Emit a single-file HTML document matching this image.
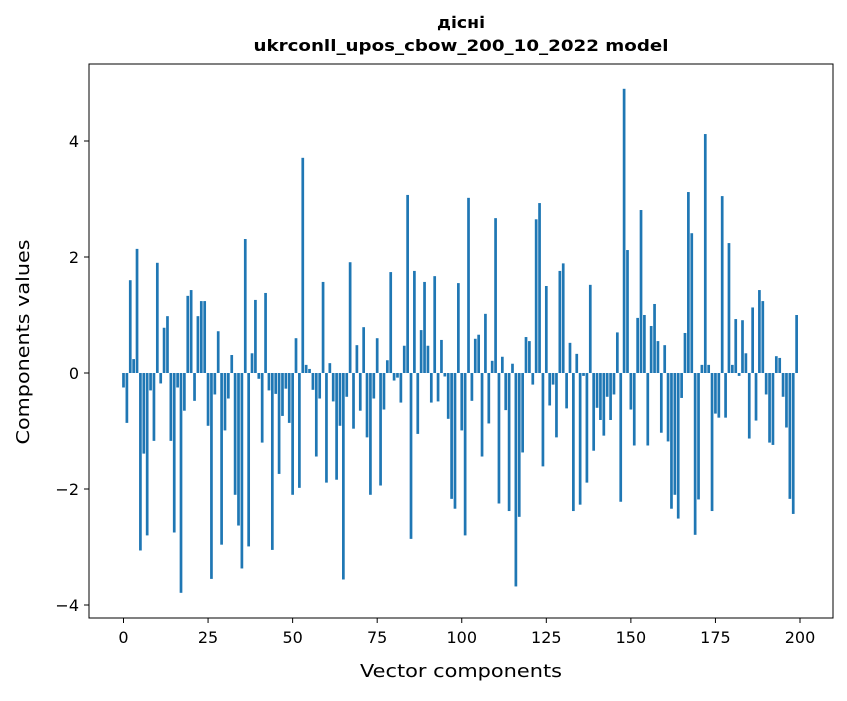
<!DOCTYPE html>
<html><head><meta charset="utf-8"><style>
body{margin:0;background:#fff;}
svg text{font-family:"DejaVu Sans","Liberation Sans",sans-serif;fill:#000;}
</style></head><body>
<svg id="chart" width="847" height="696" viewBox="0 0 847 696">
<rect x="0" y="0" width="847" height="696" fill="#fff"/>
<text x="461" y="28" text-anchor="middle" font-size="16" font-weight="bold" textLength="48" lengthAdjust="spacingAndGlyphs">дісні</text>
<text x="461" y="51" text-anchor="middle" font-size="16" font-weight="bold" textLength="415" lengthAdjust="spacingAndGlyphs">ukrconll_upos_cbow_200_10_2022 model</text>
<g id="bars"></g>
<g id="xticks"></g>
<g id="yticks"></g>
<rect x="89" y="64" width="744" height="554" fill="none" stroke="#000" stroke-width="1"/>
<text x="461" y="677" text-anchor="middle" font-size="18" textLength="202" lengthAdjust="spacingAndGlyphs">Vector components</text>
<text x="0" y="0" transform="translate(29,342) rotate(-90)" text-anchor="middle" font-size="18" textLength="205" lengthAdjust="spacingAndGlyphs">Components values</text>
</svg>
<script>
const values = [-0.25,-0.86,1.60,0.24,2.14,-3.06,-1.39,-2.80,-0.30,-1.17,1.90,-0.18,0.78,0.98,-1.17,-2.75,-0.25,-3.79,-0.65,1.33,1.43,-0.48,0.98,1.24,1.24,
-0.91,-3.55,-0.37,0.72,-2.96,-0.99,-0.44,0.31,-2.10,-2.63,-3.37,2.31,-2.99,0.34,1.26,-0.10,-1.20,1.38,-0.30,-3.05,-0.36,-1.74,-0.74,-0.27,-0.86,
-2.10,0.60,-1.98,3.71,0.14,0.07,-0.29,-1.44,-0.44,1.57,-1.89,0.17,-0.49,-1.84,-0.91,-3.56,-0.41,1.91,-0.96,0.48,-0.65,0.79,-1.11,-2.10,-0.44,
0.60,-1.94,-0.63,0.22,1.74,-0.13,-0.08,-0.51,0.47,3.07,-2.86,1.76,-1.05,0.74,1.57,0.47,-0.51,1.67,-0.49,0.57,-0.06,-0.79,-2.17,-2.34,1.55,
-0.99,-2.80,3.02,-0.48,0.59,0.66,-1.44,1.02,-0.87,0.21,2.67,-2.25,0.28,-0.64,-2.38,0.16,-3.68,-2.48,-1.37,0.62,0.55,-0.20,2.65,2.93,-1.61,
1.50,-0.56,-0.20,-1.11,1.76,1.89,-0.61,0.52,-2.38,0.33,-2.27,-0.05,-1.89,1.52,-1.34,-0.60,-0.81,-1.08,-0.41,-0.81,-0.37,0.70,-2.22,4.90,2.12,
-0.63,-1.25,0.95,2.81,1.00,-1.25,0.81,1.19,0.55,-1.03,0.48,-1.18,-2.34,-2.10,-2.51,-0.43,0.69,3.12,2.41,-2.79,-2.18,0.14,4.12,0.14,-2.38,
-0.70,-0.77,3.05,-0.77,2.24,0.14,0.93,-0.05,0.91,0.34,-1.13,1.13,-0.82,1.43,1.24,-0.37,-1.20,-1.24,0.29,0.26,-0.41,-0.94,-2.17,-2.43,1.00];
const xTickValues = [0,25,50,75,100,125,150,175,200];
const yTickValues = [-4,-2,0,2,4];
const yTickLabels = ["\u22124","\u22122","0","2","4"];

const NS = "http://www.w3.org/2000/svg";
function xScale(i){ return 123.5 + i * 3.3825; }
function yScale(v){ return 373 - v * 58; }
const barW = 0.8 * 3.3825;

const gb = document.getElementById('bars');
values.forEach((v, i) => {
  const r = document.createElementNS(NS, 'rect');
  const y0 = yScale(0), y1 = yScale(v);
  r.setAttribute('x', xScale(i) - barW / 2);
  r.setAttribute('y', Math.min(y0, y1));
  r.setAttribute('width', barW);
  r.setAttribute('height', Math.abs(y1 - y0));
  r.setAttribute('fill', '#1f77b4');
  
  
  gb.appendChild(r);
});

const gx = document.getElementById('xticks');
xTickValues.forEach(t => {
  const x = xScale(t);
  const l = document.createElementNS(NS, 'line');
  l.setAttribute('x1', x); l.setAttribute('x2', x);
  l.setAttribute('y1', 618); l.setAttribute('y2', 623);
  l.setAttribute('stroke', '#000');
  
  
  gx.appendChild(l);
  const tx = document.createElementNS(NS, 'text');
  tx.setAttribute('x', x); tx.setAttribute('y', 643);
  tx.setAttribute('text-anchor', 'middle');
  tx.setAttribute('font-size', '16');
  tx.textContent = String(t);
  
  
  gx.appendChild(tx);
});

const gy = document.getElementById('yticks');
yTickValues.forEach((t, k) => {
  const y = yScale(t);
  const l = document.createElementNS(NS, 'line');
  l.setAttribute('x1', 84); l.setAttribute('x2', 89);
  l.setAttribute('y1', y); l.setAttribute('y2', y);
  l.setAttribute('stroke', '#000');
  
  
  gy.appendChild(l);
  const tx = document.createElementNS(NS, 'text');
  tx.setAttribute('x', 79); tx.setAttribute('y', y + 6);
  tx.setAttribute('text-anchor', 'end');
  tx.setAttribute('font-size', '16');
  tx.textContent = yTickLabels[k];
  
  
  gy.appendChild(tx);
});
</script>
</body></html>
